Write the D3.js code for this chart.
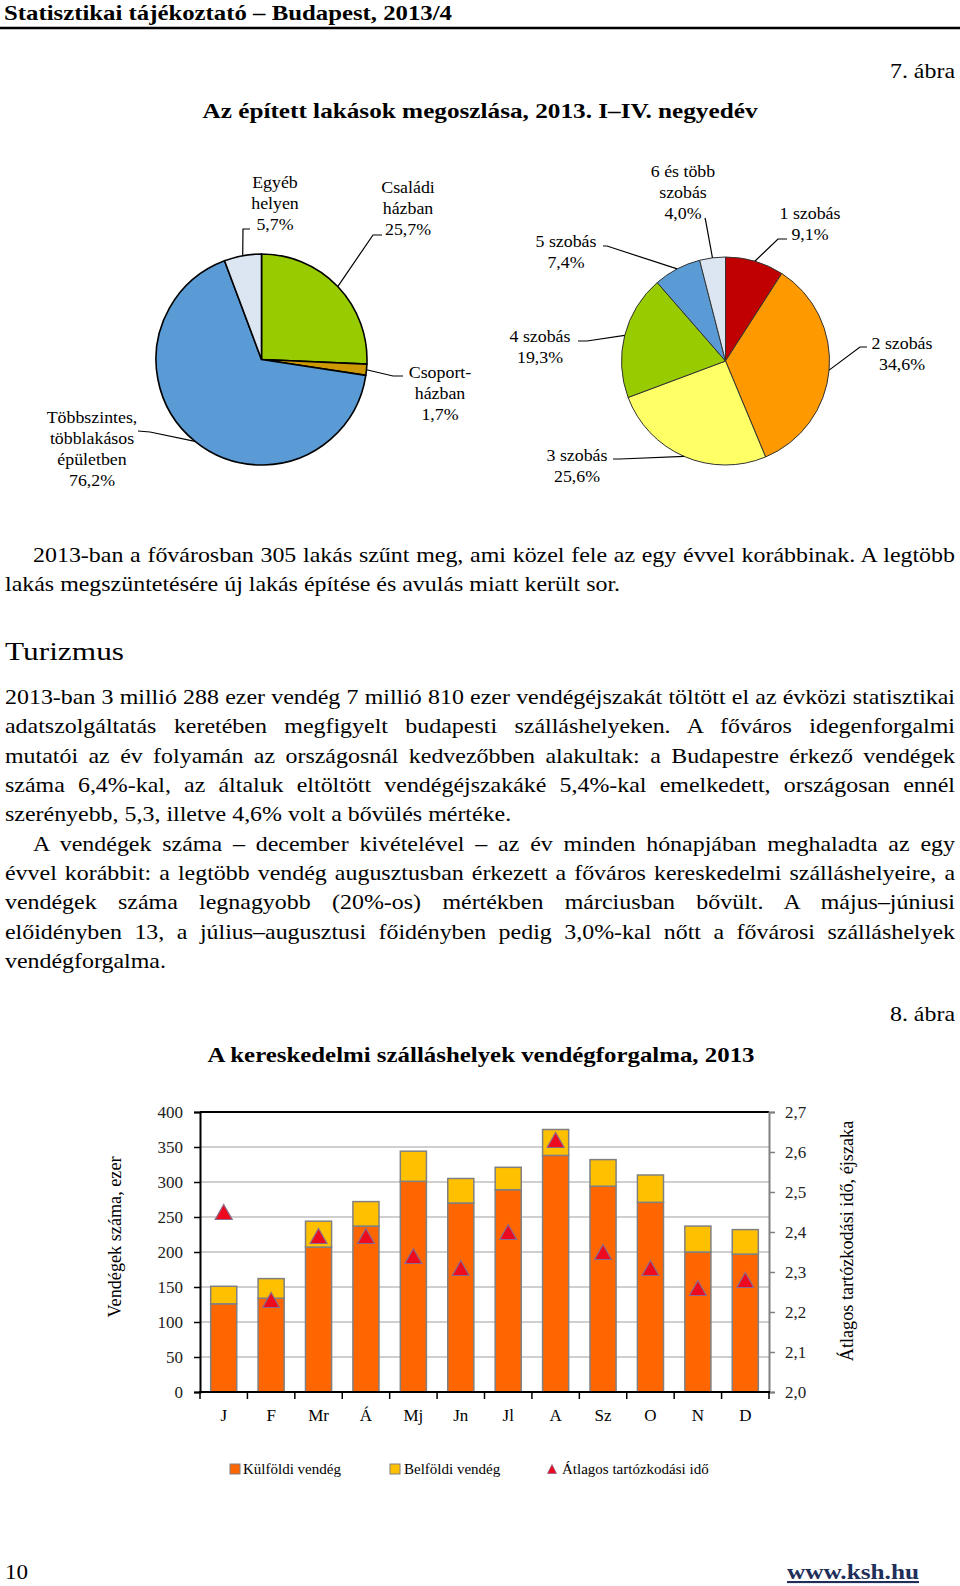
<!DOCTYPE html>
<html><head><meta charset="utf-8">
<script src="https://cdn.jsdelivr.net/npm/d3@7"></script>
<style>
body{margin:0;background:#fff}
svg{display:block}
text{font-family:"Liberation Serif","Times New Roman",serif;fill:#000}
</style>
</head><body>
<svg id="c" width="960" height="1586"></svg>
<script>
// ---------------- DATA ----------------
const pie1Names = ["Családi házban","Csoportházban","Többszintes, többlakásos épületben","Egyéb helyen"];
const pie1LabelLines = [["Családi","házban"],["Csoport-","házban"],["Többszintes,","többlakásos","épületben"],["Egyéb","helyen"]];
const pie1Values = [25.7, 1.7, 66.9, 5.7];   // slice sizes as drawn
const pie1Pct = ["25,7%","1,7%","76,2%","5,7%"];
const pie1Colors = ["#99CC00","#CC9900","#5B9BD5","#DCE6F2"];

const pie2Names = ["1 szobás","2 szobás","3 szobás","4 szobás","5 szobás","6 és több szobás"];
const pie2LabelLines = [["1 szobás"],["2 szobás"],["3 szobás"],["4 szobás"],["5 szobás"],["6 és több","szobás"]];
const pie2Values = [9.1, 34.6, 25.6, 19.3, 7.4, 4.0];
const pie2Pct = ["9,1%","34,6%","25,6%","19,3%","7,4%","4,0%"];
const pie2Colors = ["#C00000","#FF9900","#FFFF66","#99CC00","#5B9BD5","#DCE6F2"];

const months = ["J","F","Mr","Á","Mj","Jn","Jl","A","Sz","O","N","D"];
const foreignGuests = [126,134,207,237,301,270,289,338,294,271,200,197];
const domesticGuests = [25,28,37,35,43,35,32,37,38,39,37,35];
const avgStay = [2.45,2.23,2.39,2.39,2.34,2.31,2.40,2.63,2.35,2.31,2.26,2.28];
const leftTicks = [0,50,100,150,200,250,300,350,400];
const rightTicks = [2.0,2.1,2.2,2.3,2.4,2.5,2.6,2.7];
const legendItems = ["Külföldi vendég","Belföldi vendég","Átlagos tartózkodási idő"];

const para1 = [
 "2013-ban a fővárosban 305 lakás szűnt meg, ami közel fele az egy évvel korábbinak. A legtöbb",
 "lakás megszüntetésére új lakás építése és avulás miatt került sor."
];
const para2 = [
 "2013-ban 3 millió 288 ezer vendég 7 millió 810 ezer vendégéjszakát töltött el az évközi statisztikai",
 "adatszolgáltatás keretében megfigyelt budapesti szálláshelyeken. A főváros idegenforgalmi",
 "mutatói az év folyamán az országosnál kedvezőbben alakultak: a Budapestre érkező vendégek",
 "száma 6,4%-kal, az általuk eltöltött vendégéjszakáké 5,4%-kal emelkedett, országosan ennél",
 "szerényebb, 5,3, illetve 4,6% volt a bővülés mértéke."
];
const para3 = [
 "A vendégek száma – december kivételével – az év minden hónapjában meghaladta az egy",
 "évvel korábbit: a legtöbb vendég augusztusban érkezett a főváros kereskedelmi szálláshelyeire, a",
 "vendégek száma legnagyobb (20%-os) mértékben márciusban bővült. A május–júniusi",
 "előidényben 13, a július–augusztusi főidényben pedig 3,0%-kal nőtt a fővárosi szálláshelyek",
 "vendégforgalma."
];

// ---------------- HELPERS ----------------
const svg = d3.select("#c");
function txt(s, x, y, size, o = {}) {
  const t = svg.append("text").attr("x", x).attr("y", y).attr("font-size", size).text(s);
  if (o.anchor) t.attr("text-anchor", o.anchor);
  if (o.weight) t.attr("font-weight", o.weight);
  if (o.fill) t.style("fill", o.fill);
  if (o.fit) t.attr("textLength", o.fit).attr("lengthAdjust", o.adjust || "spacingAndGlyphs");
  return t;
}
// horizontally scaled text (imitates the wider Garamond face), optional justification
function stxt(s, x, y, size, sx, o = {}) {
  const g = svg.append("g").attr("transform", `translate(${x},${y}) scale(${sx},1)`);
  const t = g.append("text").attr("font-size", size).text(s);
  if (o.anchor) t.attr("text-anchor", o.anchor);
  if (o.weight) t.attr("font-weight", o.weight);
  if (o.justify) {
    const len = t.node().getComputedTextLength();
    const n = (s.match(/ /g) || []).length;
    if (n) t.style("word-spacing", ((o.justify / sx - len) / n) + "px");
  }
  return t;
}
const SX = 1.14;

// ---------------- HEADER ----------------
txt("Statisztikai tájékoztató – Budapest, 2013/4", 4, 20, 22, {weight: "bold", fit: 448});
svg.append("line").attr("x1", 0).attr("x2", 960).attr("y1", 28).attr("y2", 28).attr("stroke", "#000").attr("stroke-width", 2.5);
stxt("7. ábra", 955, 78, 21, SX, {anchor: "end"});
txt("Az épített lakások megoszlása, 2013. I–IV. negyedév", 480, 118, 22, {anchor: "middle", weight: "bold", fit: 555});

// ---------------- PIES ----------------
function drawPie(values, colors, cx, cy, r, stroke, sw, lines, pct, layout) {
  const pie = d3.pie().sort(null).value(d => d)(values);
  const arc = d3.arc().innerRadius(0).outerRadius(r);
  const edge = d3.arc().innerRadius(r).outerRadius(r);
  const g = svg.append("g").attr("transform", `translate(${cx},${cy})`);
  g.selectAll("path").data(pie).join("path")
    .attr("d", arc).attr("fill", (d, i) => colors[i])
    .attr("stroke", stroke).attr("stroke-width", sw).attr("stroke-linejoin", "round");
  pie.forEach((d, i) => {
    const L = layout[i];
    const c = edge.centroid(d);
    const pts = [L.lead[0], L.lead[1], [cx + c[0], cy + c[1]]];
    svg.append("path").attr("d", d3.line()(pts)).attr("fill", "none").attr("stroke", "#000").attr("stroke-width", 1.2);
    const all = lines[i].concat([pct[i]]);
    all.forEach((s, k) => stxt(s, L.cx, L.cy + 6 + k * 21, 17, 1.05, {anchor: "middle"}));
  });
}
const pie1Layout = [
  {cx: 408, cy: 187, lead: [[382, 235], [373, 235]]},
  {cx: 440, cy: 372, lead: [[403, 376], [393, 376]]},
  {cx: 92, cy: 417, lead: [[138, 431], [150, 432]]},
  {cx: 275, cy: 182, lead: [[250, 229], [243, 229]]}
];
const pie2Layout = [
  {cx: 810, cy: 213, lead: [[787, 239], [778, 239]]},
  {cx: 902, cy: 343, lead: [[867, 347], [860, 347]]},
  {cx: 577, cy: 455, lead: [[613, 459], [620, 459]]},
  {cx: 540, cy: 336, lead: [[578, 341], [587, 341]]},
  {cx: 566, cy: 241, lead: [[603, 246], [607, 246]]},
  {cx: 683, cy: 171, lead: [[705, 218], [705.5, 220]]}
];
drawPie(pie1Values, pie1Colors, 261.5, 359.5, 105.5, "#000", 1.6, pie1LabelLines, pie1Pct, pie1Layout);
drawPie(pie2Values, pie2Colors, 725.5, 361, 104, "#333", 1, pie2LabelLines, pie2Pct, pie2Layout);

// ---------------- TEXT ----------------
const BODY = 21;
stxt(para1[0], 33, 562, BODY, SX, {justify: 922});
stxt(para1[1], 5, 591, BODY, SX);
txt("Turizmus", 5, 660, 26, {fit: 119});
const LH = 29.35;
para2.forEach((s, i) => {
  stxt(s, 5, 704 + i * LH, BODY, SX, i < para2.length - 1 ? {justify: 950} : {});
});
para3.forEach((s, i) => {
  const y = 704 + (i + 5) * LH;
  if (i === 0) stxt(s, 33, y, BODY, SX, {justify: 922});
  else stxt(s, 5, y, BODY, SX, i < para3.length - 1 ? {justify: 950} : {});
});

stxt("8. ábra", 955, 1021, 21, SX, {anchor: "end"});
txt("A kereskedelmi szálláshelyek vendégforgalma, 2013", 481, 1062, 22, {anchor: "middle", weight: "bold", fit: 547});

// ---------------- BAR CHART ----------------
const X0 = 200, X1 = 769, Y0 = 1392, Y1 = 1112;
const x = d3.scaleBand().domain(months).range([X0, X1]).paddingInner(0.45).paddingOuter(0.225);
const y = d3.scaleLinear().domain([0, 400]).range([Y0, Y1]);
const y2 = d3.scaleLinear().domain([2.0, 2.7]).range([Y0, Y1]);

const chart = svg.append("g");
chart.selectAll("line.grid").data(leftTicks.filter(t => t > 0 && t < 400)).join("line")
  .attr("x1", X0).attr("x2", X1).attr("y1", d => y(d)).attr("y2", d => y(d))
  .attr("stroke", "#BFBFBF").attr("stroke-width", 1.3);
chart.append("line").attr("x1", X0).attr("x2", X1).attr("y1", y(400)).attr("y2", y(400)).attr("stroke", "#000").attr("stroke-width", 1.8);

const bw = x.bandwidth();
months.forEach((m, i) => {
  const f = foreignGuests[i], d = domesticGuests[i];
  chart.append("rect").attr("x", x(m)).attr("width", bw).attr("y", y(f)).attr("height", y(0) - y(f))
    .attr("fill", "#FF6600").attr("stroke", "#808080").attr("stroke-width", 1.5);
  chart.append("rect").attr("x", x(m)).attr("width", bw).attr("y", y(f + d)).attr("height", y(f) - y(f + d))
    .attr("fill", "#FFC000").attr("stroke", "#808080").attr("stroke-width", 1.5);
});

const tri = "M0,-7.5L8.5,7.5L-8.5,7.5Z";
chart.selectAll("path.tri").data(avgStay).join("path")
  .attr("d", tri)
  .attr("transform", (v, i) => `translate(${x(months[i]) + bw / 2},${y2(v)})`)
  .attr("fill", "#EE0A1E").attr("stroke", "#8C6A8C").attr("stroke-width", 1.2);

const la = svg.append("g").attr("transform", `translate(${X0},0)`)
  .call(d3.axisLeft(y).tickValues(leftTicks).tickSize(6).tickPadding(11).tickFormat(d3.format("d")));
la.select(".domain").attr("stroke", "#000").attr("stroke-width", 2);
la.selectAll(".tick line").attr("stroke", "#000").attr("stroke-width", 1.5);
la.selectAll(".tick text").attr("font-size", 17).attr("font-family", '"Liberation Serif",serif').style("fill", "#222");

const ra = svg.append("g").attr("transform", `translate(${X1},0)`)
  .call(d3.axisRight(y2).tickValues(rightTicks).tickSize(6).tickPadding(10).tickFormat(d => d.toFixed(1).replace(".", ",")));
ra.select(".domain").attr("stroke", "#808080").attr("stroke-width", 2);
ra.selectAll(".tick line").attr("stroke", "#808080").attr("stroke-width", 1.5);
ra.selectAll(".tick text").attr("font-size", 17).attr("font-family", '"Liberation Serif",serif').style("fill", "#222");

const step = x.step();
const bounds = d3.range(months.length + 1).map(i => X0 + i * step);
svg.append("line").attr("x1", X0 - 1).attr("x2", X1 + 1).attr("y1", Y0).attr("y2", Y0).attr("stroke", "#000").attr("stroke-width", 2);
svg.selectAll("line.xt").data(bounds).join("line")
  .attr("x1", d => d).attr("x2", d => d).attr("y1", Y0).attr("y2", Y0 + 7)
  .attr("stroke", "#000").attr("stroke-width", 1.5);
months.forEach(m => txt(m, x(m) + bw / 2, 1421, 17, {anchor: "middle"}));

svg.append("text").attr("transform", "translate(121,1237) rotate(-90)").attr("text-anchor", "middle")
  .attr("font-size", 18.2).text("Vendégek száma, ezer");
svg.append("text").attr("transform", "translate(853,1241) rotate(-90)").attr("text-anchor", "middle")
  .attr("font-size", 18.2).text("Átlagos tartózkodási idő, éjszaka");

// legend
const LY = 1469;
svg.append("rect").attr("x", 230).attr("y", LY - 5).attr("width", 10).attr("height", 10).attr("fill", "#FF6600").attr("stroke", "#808080");
txt(legendItems[0], 243, LY + 5, 15);
svg.append("rect").attr("x", 390).attr("y", LY - 5).attr("width", 10).attr("height", 10).attr("fill", "#FFC000").attr("stroke", "#808080");
txt(legendItems[1], 404, LY + 5, 15);
svg.append("path").attr("d", "M0,-4.5L4.5,4.5L-4.5,4.5Z").attr("transform", `translate(552,${LY})`)
  .attr("fill", "#EE0A1E").attr("stroke", "#8C6A8C").attr("stroke-width", 0.8);
txt(legendItems[2], 562, LY + 5, 15);

// footer
stxt("10", 5, 1579, 21, 1.1);
txt("www.ksh.hu", 787, 1579, 21, {weight: "bold", fill: "#1F2F5A", fit: 132}).style("text-decoration", "underline");
</script>
</body></html>
